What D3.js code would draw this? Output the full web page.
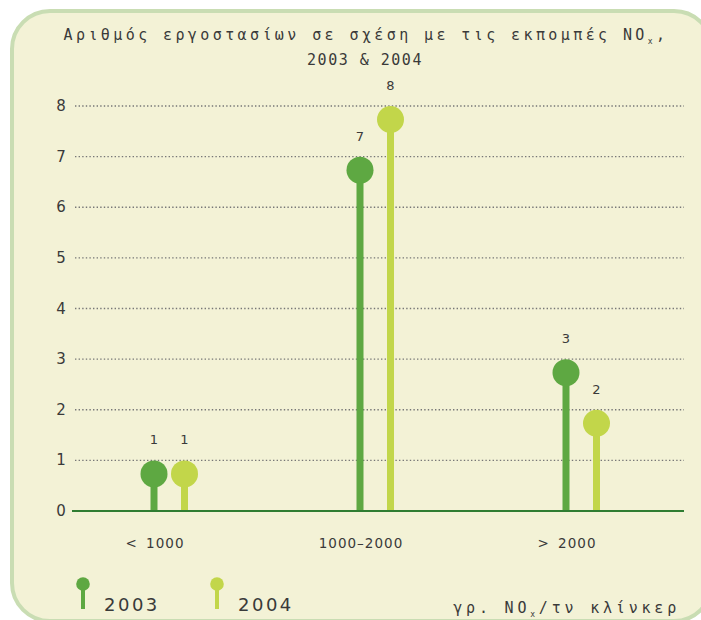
<!doctype html>
<html lang="el">
<head>
  <meta charset="utf-8">
  <title>NOx</title>
  <style>
    body { margin: 0; background: #fff; }
    text { font-family: "DejaVu Sans Mono", monospace; fill: #3a3a3a; }
  </style>
</head>
<body>
<svg id="chart" width="701" height="620"></svg>
<script src="https://d3js.org/d3.v7.min.js"></script>
<script>
    var categories = ["< 1000", "1000\u20132000", "> 2000"];
    var years = ["2003", "2004"];
    var values2003 = [1, 7, 3];
    var values2004 = [1, 8, 2];
    var yTicks = [0, 1, 2, 3, 4, 5, 6, 7, 8];
    var colors = ["#5ea842", "#c2d64a"];

    var svg = d3.select("#chart");

    // background panel
    svg.append("rect")
        .attr("x", 12).attr("y", 11)
        .attr("width", 700).attr("height", 610)
        .attr("rx", 38).attr("ry", 38)
        .attr("fill", "#f3f2d6")
        .attr("stroke", "#c9ddb3")
        .attr("stroke-width", 4);

    // title
    var title = svg.append("text")
        .attr("x", 366).attr("y", 40)
        .attr("text-anchor", "middle")
        .style("font-size", "15px")
        .style("letter-spacing", "3.4px");
    title.append("tspan").text("Αριθμός εργοστασίων σε σχέση με τις εκπομπές ΝΟ");
    title.append("tspan").attr("dy", 4).style("font-size", "8px").text("x");
    title.append("tspan").attr("dy", -4).text(",");
    svg.append("text")
        .attr("x", 365).attr("y", 65)
        .attr("text-anchor", "middle")
        .style("font-size", "15px")
        .style("letter-spacing", "1.5px")
        .text("2003 & 2004");

    var plotL = 72, plotR = 684, plotT = 106, plotB = 511;

    var x = d3.scaleBand().domain(categories).range([66, plotR]);
    var y = d3.scaleLinear().domain([0, 8]).range([plotB, plotT]);

    // gridlines
    svg.append("g").selectAll("line")
        .data(yTicks.filter(function(d) { return d > 0; }))
        .join("line")
        .attr("x1", plotL + 3).attr("x2", plotR)
        .attr("y1", function(d) { return y(d); })
        .attr("y2", function(d) { return y(d); })
        .attr("stroke", "#777")
        .attr("stroke-width", 1.4)
        .attr("stroke-dasharray", "1.4,2.2");

    // y tick labels
    svg.append("g").selectAll("text")
        .data(yTicks)
        .join("text")
        .attr("x", 61)
        .attr("y", function(d) { return y(d) + 5; })
        .attr("text-anchor", "middle")
        .style("font-family", "'DejaVu Sans', sans-serif")
        .style("font-size", "15px")
        .text(function(d) { return d; });

    // category labels
    svg.append("g").selectAll("text")
        .data(categories)
        .join("text")
        .attr("x", function(d) { return x(d) + x.bandwidth() / 2 - 14; })
        .attr("y", 548)
        .attr("text-anchor", "middle")
        .style("font-family", "'DejaVu Sans', sans-serif")
        .style("font-size", "13.5px")
        .style("letter-spacing", "1px")
        .style("word-spacing", "3px")
        .text(function(d) { return d; });

    var r = 13.5;
    var offsets = [-15, 15.5];
    var series = [values2003, values2004];

    series.forEach(function(vals, s) {
        var g = svg.append("g");
        var data = vals.map(function(v, i) { return { cat: categories[i], v: v }; });
        var cx = function(d) { return x(d.cat) + x.bandwidth() / 2 + offsets[s]; };
        g.selectAll("line")
            .data(data)
            .join("line")
            .attr("x1", cx).attr("x2", cx)
            .attr("y1", y(0))
            .attr("y2", function(d) { return y(d.v) + r; })
            .attr("stroke", colors[s])
            .attr("stroke-width", 7);
        g.selectAll("circle")
            .data(data)
            .join("circle")
            .attr("cx", cx)
            .attr("cy", function(d) { return y(d.v) + r; })
            .attr("r", r)
            .attr("fill", colors[s]);
        g.selectAll("text")
            .data(data)
            .join("text")
            .attr("x", cx)
            .attr("y", function(d) { return y(d.v) - 16; })
            .attr("text-anchor", "middle")
            .style("font-family", "'DejaVu Sans', sans-serif")
            .style("font-size", "13px")
            .text(function(d) { return d.v; });
    });

    // zero line
    svg.append("line")
        .attr("x1", plotL).attr("x2", plotR)
        .attr("y1", y(0)).attr("y2", y(0))
        .attr("stroke", "#2f7d32")
        .attr("stroke-width", 2);

    // legend
    var legendX = [83, 217];
    years.forEach(function(yr, i) {
        var g = svg.append("g").attr("transform", "translate(" + legendX[i] + ",0)");
        g.append("line")
            .attr("x1", 0).attr("x2", 0)
            .attr("y1", 584).attr("y2", 609)
            .attr("stroke", colors[i]).attr("stroke-width", 4);
        g.append("circle")
            .attr("cx", 0).attr("cy", 584).attr("r", 6.8)
            .attr("fill", colors[i]);
        g.append("text")
            .attr("x", 21).attr("y", 611)
            .style("font-family", "'DejaVu Sans', sans-serif")
            .style("font-size", "18px")
            .style("letter-spacing", "2.5px")
            .text(yr);
    });

    // unit label
    var unit = svg.append("text")
        .attr("x", 680).attr("y", 613)
        .attr("text-anchor", "end")
        .style("font-size", "15px")
        .style("letter-spacing", "3.8px");
    unit.append("tspan").text("γρ. ΝΟ");
    unit.append("tspan").attr("dy", 4).style("font-size", "8px").text("x");
    unit.append("tspan").attr("dy", -4).text("/τν κλίνκερ");
</script>
</body>
</html>
